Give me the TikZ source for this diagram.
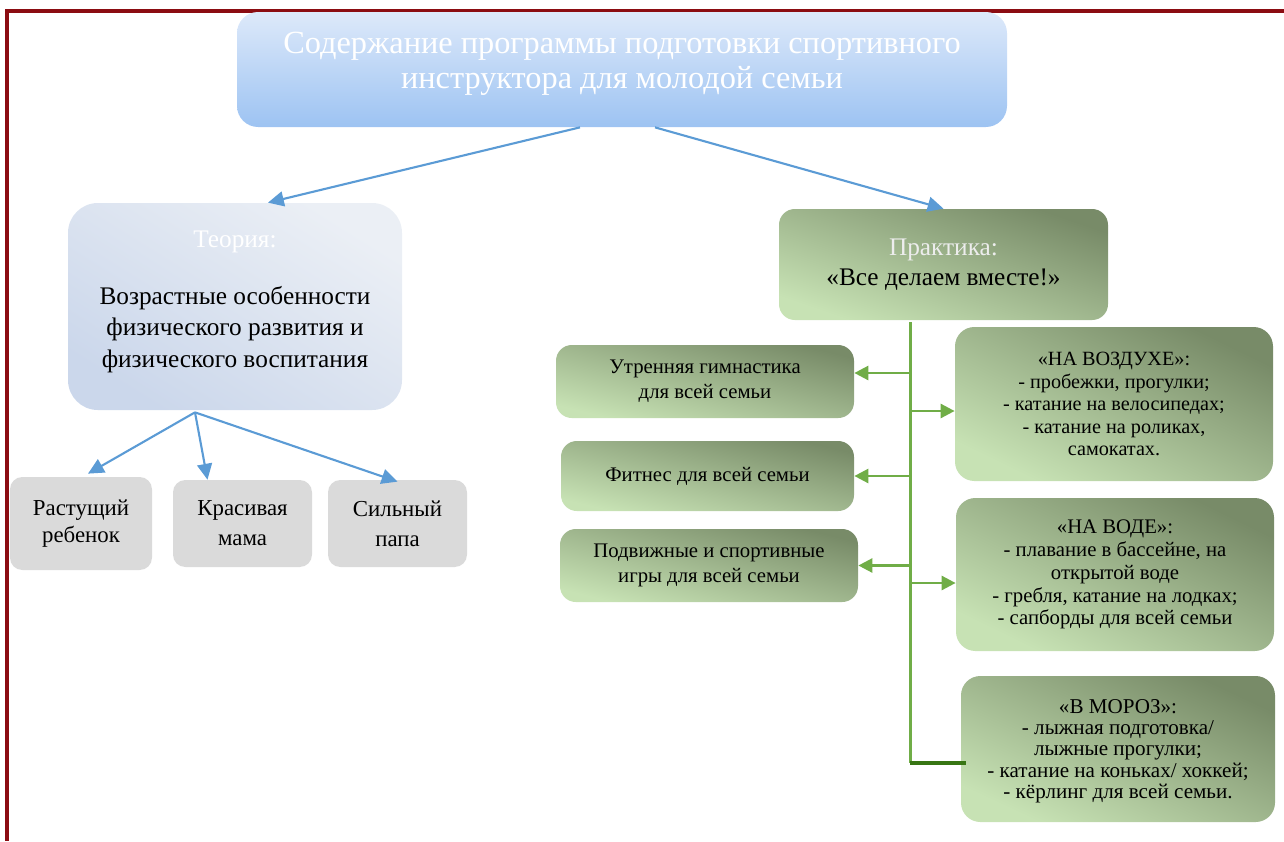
\documentclass[tikz,border=0pt]{standalone}
\usepackage{fontspec}
\setmainfont{Liberation Serif}
\usetikzlibrary{arrows.meta}
\usetikzlibrary{positioning}
\definecolor{framered}{RGB}{139,12,18}
\definecolor{titletop}{RGB}{221,233,250}
\definecolor{titlebot}{RGB}{157,195,242}
\definecolor{theotop}{RGB}{235,239,245}
\definecolor{theobot}{RGB}{203,215,235}
\definecolor{greydark}{RGB}{218,218,218}
\definecolor{greentop}{RGB}{120,139,104}
\definecolor{greenbot}{RGB}{199,226,180}
\definecolor{arrowblue}{RGB}{91,155,213}
\definecolor{linegreen}{RGB}{112,173,71}
\definecolor{darkgreen}{RGB}{56,118,20}
\tikzset{box/.style = {align = center, inner sep = 0},
  titlebox/.style = {box, rounded corners = 12, top color = titletop, bottom color = titlebot},
  theobox/.style = {box, rounded corners = 17, top color = theotop, bottom color = theobot, shading angle = -32},
  greybox/.style = {box, rounded corners = 7, fill = greydark},
  greenbox/.style = {box, rounded corners = 9, top color = greentop, bottom color = greenbot},
  barrow/.style = {arrowblue, line width = 1.2pt, -{Triangle[length = 9pt, width = 8.5pt]}},
  garrow/.style = {linegreen, line width = 1.5pt, -{Triangle[length = 8pt, width = 8pt]}}}
\begin{document}
\begin{tikzpicture}
  \useasboundingbox (0, 0) rectangle (25.68, -16.82);
  \draw [framered, line width = 1.8pt] (25.68, -0.22) -- (0.14, -0.22) -- (0.14, -16.82);

  % top box
  \node [titlebox, minimum width = 15.4cm, minimum height = 2.3cm] (title) at (12.44, -1.39) {};
  \node [box, white, font = \fontsize{18.4}{19.8}\selectfont] (titletext) at (12.44, -1.27)
    {Содержание программы подготовки спортивного\\инструктора для молодой семьи};

  % theory side
  \node [theobox, minimum width = 6.68cm, minimum height = 4.14cm] (theory) at (4.7, -6.13) {};
  \node [box, font = \fontsize{14.4}{18}\selectfont] (theorytext) at (4.7, -6.04)
    {\textcolor{white}{Теория:}\\[0.5cm]Возрастные особенности\\физического развития и\\физического воспитания};
  \node [greybox, minimum width = 2.84cm, minimum height = 1.86cm,
    font = \fontsize{13}{15.5}\selectfont] (child) at (1.62, -10.47) {Растущий\\ребенок};
  \node [greybox, minimum width = 2.78cm, minimum height = 1.74cm,
    font = \fontsize{13}{17}\selectfont] (mom) at (4.85, -10.47) {Красивая\\мама};
  \node [greybox, minimum width = 2.78cm, minimum height = 1.74cm,
    font = \fontsize{13}{17}\selectfont] (dad) at (7.95, -10.47) {Сильный\\папа};

  % practice side
  \node [greenbox, shading angle = -19, minimum width = 6.58cm, minimum height = 2.22cm,
    font = \fontsize{14.4}{17}\selectfont] (practice) at (18.87, -5.29)
    {\textcolor{white!93!black}{Практика:}\\«Все делаем вместе!»};
  \node [greenbox, shading angle = -14, minimum width = 5.96cm, minimum height = 1.46cm,
    font = \fontsize{11.8}{14}\selectfont] (morning) at (14.1, -7.63)
    {Утренняя гимнастика\\для всей семьи};
  \node [greenbox, shading angle = -13, minimum width = 5.86cm, minimum height = 1.4cm,
    font = \fontsize{11.8}{14}\selectfont] (fitness) at (14.15, -9.52)
    {Фитнес для всей семьи};
  \node [greenbox, shading angle = -14, minimum width = 5.96cm, minimum height = 1.46cm,
    font = \fontsize{11.8}{14}\selectfont] (games) at (14.18, -11.31)
    {Подвижные и спортивные\\игры для всей семьи};
  \node [greenbox, shading angle = -26, rounded corners = 11, minimum width = 6.36cm, minimum height = 3.08cm,
    font = \fontsize{11.5}{12.8}\selectfont] (air) at (22.28, -8.08)
    {«НА ВОЗДУХЕ»:\\- пробежки, прогулки;\\- катание на велосипедах;\\- катание на роликах,\\самокатах.};
  \node [greenbox, shading angle = -26, rounded corners = 11, minimum width = 6.36cm, minimum height = 3.06cm,
    font = \fontsize{11.8}{13}\selectfont] (water) at (22.3, -11.49)
    {«НА ВОДЕ»:\\- плавание в бассейне, на\\открытой воде\\- гребля, катание на лодках;\\- сапборды для всей семьи};
  \node [greenbox, shading angle = -25, rounded corners = 11, minimum width = 6.28cm, minimum height = 2.92cm,
    font = \fontsize{12}{12}\selectfont, text depth = 0pt] (frost) at (22.36, -14.98)
    {«В МОРОЗ»:\\- лыжная подготовка/\\лыжные прогулки;\\- катание на коньках/ хоккей;\\- кёрлинг для всей семьи.};

  % blue arrows
  \draw [barrow] ([xshift = -0.84cm]title.south) -- ([xshift = 0.66cm]theory.north);
  \draw [barrow] ([xshift = 0.66cm]title.south) -- (practice.north);
  \coordinate (tsplit) at ([xshift = -0.8cm, yshift = -0.04cm]theory.south);
  \draw [barrow] (tsplit) -- ([xshift = 0.14cm, yshift = 0.06cm]child.north);
  \draw [barrow] (tsplit) -- ([xshift = -0.7cm]mom.north);
  \draw [barrow] (tsplit) -- ([yshift = -0.04cm]dad.north);

  % green tree
  \coordinate (ttop) at ([xshift = -0.67cm, yshift = -0.04cm]practice.south);
  \coordinate (fend) at ([shift = {(0.1, -0.28)}]frost.west);
  \coordinate (mend) at ([yshift = 0.17cm]morning.east);
  \coordinate (aend) at ([yshift = -0.14cm]air.west);
  \coordinate (wend) at ([yshift = -0.17cm]water.west);
  \draw [linegreen, line width = 1.7pt] (ttop) -- (ttop |- fend);
  \draw [darkgreen, line width = 2.2pt] (ttop |- fend) -- (fend);
  \draw [garrow] (ttop |- mend) -- (mend);
  \draw [garrow] (ttop |- fitness.east) -- (fitness.east);
  \draw [garrow] (ttop |- games.east) -- (games.east);
  \draw [garrow] (ttop |- aend) -- (aend);
  \draw [garrow] (ttop |- wend) -- (wend);
\end{tikzpicture}
\end{document}
